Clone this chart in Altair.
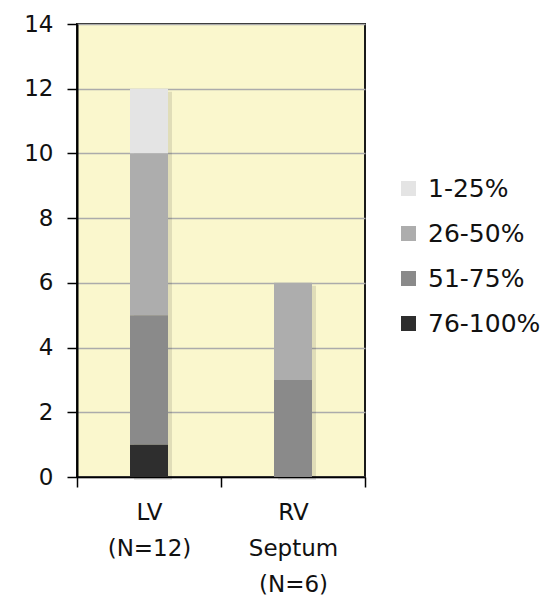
import altair as alt
import pandas as pd

# Wall regions and the share of each region's wall involved
regions = ["LV\n(N=12)", "RV\nSeptum\n(N=6)"]
bands = ["1-25%", "26-50%", "51-75%", "76-100%"]
band_colors = ["#e4e4e4", "#adadad", "#8a8a8a", "#2e2e2e"]

# counts per band, listed in the same order as `bands`
lv_counts = [2, 5, 4, 1]
rv_counts = [0, 3, 3, 0]

rows = []
for region, counts in zip(regions, [lv_counts, rv_counts]):
    for i, (band, n) in enumerate(zip(bands, counts)):
        rows.append({"region": region, "band": band, "count": n,
                     "stack_rank": len(bands) - 1 - i})
df = pd.DataFrame(rows)

totals = df.groupby("region", sort=False)["count"].sum().reset_index()

x_enc = alt.X(
    "region:N",
    sort=regions,
    scale=alt.Scale(paddingInner=0, paddingOuter=0),
    axis=alt.Axis(
        title=None,
        labelAngle=0,
        labelExpr="datum.value ? split(datum.value, '\\n') : ''",
        labelFont="DejaVu Sans",
        labelFontSize=23,
        labelColor="#111111",
        labelLineHeight=36,
        labelBaseline="top",
        labelPadding=14,
        tickBand="extent",
        tickSize=10,
        tickColor="#000000",
        tickWidth=1.5,
        domainColor="#000000",
        domainWidth=1.5,
        grid=False,
    ),
)

y_scale = alt.Scale(domain=[0, 14], nice=False)
y_axis = alt.Axis(
    title=None,
    values=[0, 2, 4, 6, 8, 10, 12, 14],
    labelFont="DejaVu Sans",
    labelFontSize=23,
    labelColor="#111111",
    labelPadding=14,
    tickSize=10,
    tickColor="#000000",
    tickWidth=1.5,
    domainColor="#000000",
    domainWidth=2,
    grid=True,
    gridColor="#ababab",
    gridWidth=1.5,
)

shadow = alt.Chart(totals).mark_bar(
    size=38, color="#000000", opacity=0.10, xOffset=4, yOffset=3
).encode(
    x=x_enc,
    y=alt.Y("count:Q", scale=y_scale, axis=y_axis),
)

bars = alt.Chart(df).mark_bar(size=38).encode(
    x=x_enc,
    y=alt.Y("count:Q", stack="zero", scale=y_scale, axis=y_axis),
    color=alt.Color(
        "band:N",
        scale=alt.Scale(domain=bands, range=band_colors),
        legend=alt.Legend(
            title=None,
            orient="none",
            legendX=319,
            legendY=152,
            symbolType="square",
            symbolSize=225,
            symbolStrokeWidth=0,
            labelFont="DejaVu Sans",
            labelFontSize=25,
            labelColor="#111111",
            labelOffset=7,
            rowPadding=19,
        ),
    ),
    order=alt.Order("stack_rank:Q", sort="ascending"),
)

chart = (
    alt.layer(shadow, bars)
    .properties(
        width=288,
        height=453,
        autosize=alt.AutoSizeParams(type="none"),
        padding={"left": 77, "top": 24, "right": 180, "bottom": 118},
        background="#ffffff",
    )
    .configure_view(fill="#faf7cd", stroke="#1a1a1a", strokeWidth=2)
)

chart.save("out.html", embed_options={"renderer": "svg", "actions": False})
